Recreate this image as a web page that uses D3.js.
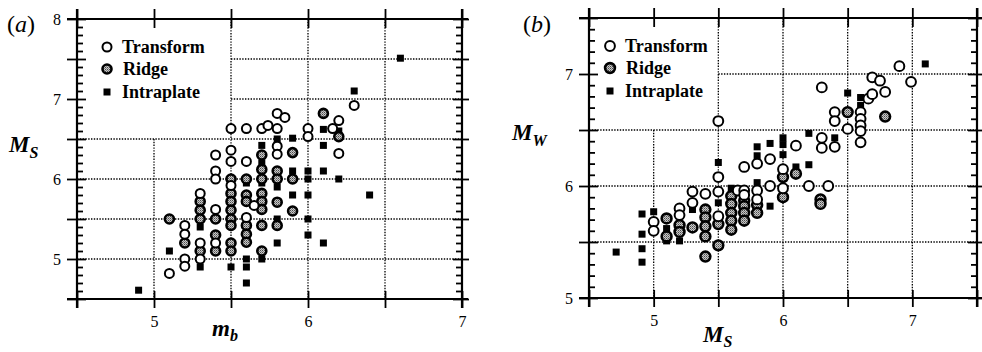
<!DOCTYPE html>
<html><head><meta charset="utf-8">
<script src="https://cdn.jsdelivr.net/npm/d3@7/dist/d3.min.js"></script>
<style>
html,body{margin:0;padding:0;background:#fff;}
svg{display:block;}
text{font-family:"Liberation Serif","Times New Roman",serif;fill:#000;}
</style></head><body>
<svg id="chart" width="982" height="352"></svg>
<script>
// ---------- DATA ----------
const seriesNames = ["Transform", "Ridge", "Intraplate"];

// Panel (a): [mb, Ms]
const aTransform = [[5.1,4.82],[5.2,5.42],[5.2,5.31],[5.2,5.0],[5.2,4.91],[5.3,5.82],[5.3,5.2],[5.3,5.0],
  [5.4,6.3],[5.4,6.1],[5.4,6.0],[5.4,5.62],[5.4,5.2],[5.5,6.63],[5.5,6.36],[5.5,6.22],[5.5,5.92],
  [5.6,6.63],[5.6,6.22],[5.6,5.52],[5.65,5.67],[5.7,6.63],[5.74,6.67],[5.8,6.63],[5.8,6.82],[5.8,6.41],
  [5.8,6.31],[5.85,6.77],[6.0,6.63],[6.0,6.53],[6.16,6.63],[6.2,6.73],[6.2,6.32],[6.3,6.92]];
const aRidge = [[5.1,5.5],[5.2,5.2],[5.3,5.72],[5.3,5.61],[5.3,5.5],[5.3,5.1],[5.4,5.5],[5.4,5.3],[5.4,5.1],
  [5.5,6.0],[5.5,5.82],[5.5,5.72],[5.5,5.61],[5.5,5.5],[5.5,5.42],[5.5,5.2],[5.5,5.1],
  [5.6,6.0],[5.6,5.8],[5.6,5.72],[5.6,5.42],[5.6,5.31],[5.6,5.21],
  [5.7,6.3],[5.7,6.12],[5.7,6.0],[5.7,5.82],[5.7,5.72],[5.7,5.62],[5.7,5.42],[5.7,5.1],
  [5.8,6.1],[5.8,6.0],[5.8,5.71],[5.8,5.42],[5.9,6.33],[5.9,6.0],[5.9,5.6],[6.1,6.82],[6.2,6.53]];
const aIntraplate = [[4.9,4.61],[5.1,5.1],[5.3,5.4],[5.3,4.9],[5.5,4.9],[5.6,5.95],[5.6,5.0],[5.6,4.9],[5.6,4.7],
  [5.7,6.42],[5.7,6.2],[5.7,5.95],[5.7,5.0],[5.8,6.5],[5.8,5.9],[5.8,5.5],[5.8,5.2],
  [5.9,6.51],[5.9,6.1],[5.9,5.8],[6.0,6.1],[6.0,6.0],[6.0,5.8],[6.0,5.5],[6.0,5.3],
  [6.1,6.62],[6.1,6.42],[6.1,6.1],[6.1,5.2],[6.2,6.6],[6.2,6.0],[6.3,7.1],[6.4,5.8],[6.6,7.51]];

// Panel (b): [Ms, Mw]
const bTransform = [[5.0,5.68],[5.0,5.6],[5.2,5.8],[5.2,5.74],[5.3,5.95],[5.3,5.85],[5.4,5.93],
  [5.5,6.58],[5.5,6.08],[5.5,5.95],[5.5,5.73],[5.65,5.96],[5.7,6.17],[5.7,5.96],[5.7,5.92],
  [5.8,6.2],[5.8,5.96],[5.8,5.88],[5.9,6.24],[5.9,6.0],[6.0,6.15],[6.0,5.98],[6.1,6.36],[6.2,6.0],
  [6.3,6.88],[6.3,6.43],[6.3,6.34],[6.35,6.0],[6.4,6.66],[6.4,6.58],[6.4,6.35],[6.5,6.51],
  [6.6,6.66],[6.6,6.6],[6.6,6.54],[6.6,6.49],[6.6,6.39],[6.66,6.78],[6.69,6.82],[6.69,6.97],
  [6.75,6.94],[6.79,6.84],[6.9,7.07],[6.99,6.93]];
const bRidge = [[5.1,5.71],[5.1,5.55],[5.2,5.65],[5.2,5.59],[5.3,5.63],[5.4,5.79],[5.4,5.72],[5.4,5.64],
  [5.4,5.55],[5.4,5.37],[5.5,5.66],[5.5,5.47],[5.6,5.91],[5.6,5.84],[5.6,5.76],[5.6,5.69],[5.6,5.61],
  [5.7,5.87],[5.7,5.82],[5.7,5.76],[5.7,5.69],[5.8,5.83],[5.8,5.76],[6.0,6.08],[6.0,5.9],[6.1,6.11],
  [6.29,5.88],[6.29,5.84],[6.5,6.66],[6.79,6.62]];
const bIntraplate = [[4.71,5.41],[4.91,5.75],[4.91,5.57],[4.91,5.44],[4.91,5.32],[5.0,5.77],[5.1,5.62],[5.1,5.51],
  [5.2,5.51],[5.3,5.79],[5.5,6.21],[5.5,5.85],[5.6,5.98],[5.8,6.35],[5.8,6.27],[5.8,6.03],[5.9,6.38],[5.9,5.82],
  [6.0,6.43],[6.0,6.37],[6.0,6.28],[6.1,6.17],[6.2,6.47],[6.2,6.19],[6.4,6.43],[6.5,6.83],[6.6,6.79],
  [6.6,6.72],[7.1,7.09]];

// Axis tick labels
const aXLabels = [5, 6, 7];
const aYLabels = [5, 6, 7, 8];
const bXLabels = [5, 6, 7];
const bYLabels = [5, 6, 7];

// ---------- DRAW ----------
const svg = d3.select("#chart");
const defs = svg.append("defs");
const pat = defs.append("pattern").attr("id","ridgeFill").attr("width",2).attr("height",2)
  .attr("patternUnits","userSpaceOnUse");
pat.append("rect").attr("width",2).attr("height",2).attr("fill","#c8c8c8");
pat.append("rect").attr("width",1).attr("height",1).attr("fill","#4a4a4a");
pat.append("rect").attr("x",1).attr("y",1).attr("width",1).attr("height",1).attr("fill","#808080");

function panel(cfg) {
  const x = d3.scaleLinear().domain(cfg.xDom).range(cfg.xRange);
  const y = d3.scaleLinear().domain(cfg.yDom).range(cfg.yRange);
  const g = svg.append("g");
  const [x0, x1] = cfg.xRange, [y0, y1] = [cfg.yRange[1], cfg.yRange[0]]; // y0 top, y1 bottom

  // gridlines (hidden behind the legend area: x<5.5 and y>6.5)
  const grid = g.append("g").attr("stroke","#000").attr("stroke-width",1.3)
    .attr("stroke-dasharray","1.4,1.4");
  grid.selectAll(".gv").data(cfg.gridX).join("line")
    .attr("x1", d => x(d)).attr("x2", d => x(d))
    .attr("y1", d => d < 5.5 ? y(6.5) : y0).attr("y2", y1);
  grid.selectAll(".gh").data(cfg.gridY).join("line")
    .attr("y1", d => y(d)).attr("y2", d => y(d))
    .attr("x1", d => d > 6.5 ? x(5.5) : x0).attr("x2", x1);

  // axes with crossing major ticks and inward minor ticks
  const minorsY = d3.range(Math.round(cfg.yDom[0]*10), Math.round(cfg.yDom[1]*10)+1)
    .map(v => v/10).filter(v => Math.round(v*10) % 5 !== 0);
  const majorsY = d3.range(cfg.yDom[0], cfg.yDom[1] + 0.001, 0.5);
  const majorsX = d3.range(cfg.xDom[0], cfg.xDom[1] + 0.001, 0.5);
  const fmtY = d => cfg.yLabels.includes(d) ? d3.format("d")(d) : "";
  const fmtX = d => cfg.xLabels.includes(d) ? d3.format("d")(d) : "";

  function ax(gen, tx, ty) {
    const a = g.append("g").attr("transform", `translate(${tx},${ty})`).call(gen);
    a.select(".domain").remove();
    a.selectAll("line").attr("stroke","#000").attr("stroke-width",1.8);
    a.selectAll("text").attr("font-size",16).attr("font-family","Liberation Serif, serif");
    return a;
  }
  // left
  ax(d3.axisLeft(y).tickValues(majorsY).tickSize(10).tickPadding(6).tickFormat(fmtY), x0, 0);
  ax(d3.axisRight(y).tickValues(majorsY).tickSize(9).tickFormat(""), x0, 0);
  ax(d3.axisRight(y).tickValues(minorsY).tickSize(6).tickFormat(""), x0, 0);
  // right
  ax(d3.axisLeft(y).tickValues(majorsY).tickSize(9).tickFormat(""), x1, 0);
  ax(d3.axisRight(y).tickValues(majorsY).tickSize(7).tickFormat(""), x1, 0);
  ax(d3.axisLeft(y).tickValues(minorsY).tickSize(6).tickFormat(""), x1, 0);
  // bottom
  ax(d3.axisBottom(x).tickValues(majorsX).tickSize(9).tickPadding(8).tickFormat(fmtX), 0, y1);
  ax(d3.axisTop(x).tickValues(majorsX).tickSize(8).tickFormat(""), 0, y1);
  // top
  ax(d3.axisTop(x).tickValues(majorsX).tickSize(10).tickFormat(""), 0, y0);
  ax(d3.axisBottom(x).tickValues(majorsX).tickSize(9).tickFormat(""), 0, y0);

  // spines (extending past the corners)
  const sp = g.append("g").attr("stroke","#000").attr("stroke-width",2.2);
  sp.append("line").attr("x1",x0-10).attr("x2",x1+6).attr("y1",y0).attr("y2",y0);
  sp.append("line").attr("x1",x0-10).attr("x2",x1+6).attr("y1",y1).attr("y2",y1);
  sp.append("line").attr("x1",x0).attr("x2",x0).attr("y1",y0-10).attr("y2",y1+9);
  sp.append("line").attr("x1",x1).attr("x2",x1).attr("y1",y0-10).attr("y2",y1+9);

  // markers
  const r = cfg.r, s = cfg.sq;
  g.append("g").selectAll("rect").data(cfg.intra).join("rect")
    .attr("x", d => x(d[0]) - s/2).attr("y", d => y(d[1]) - s/2)
    .attr("width", s).attr("height", s).attr("fill", "#000");
  g.append("g").selectAll("circle").data(cfg.ridge).join("circle")
    .attr("cx", d => x(d[0])).attr("cy", d => y(d[1])).attr("r", r)
    .attr("fill", "url(#ridgeFill)").attr("stroke", "#000").attr("stroke-width", 2.6);
  g.append("g").selectAll("circle").data(cfg.trans).join("circle")
    .attr("cx", d => x(d[0])).attr("cy", d => y(d[1])).attr("r", r)
    .attr("fill", "#fff").attr("stroke", "#000").attr("stroke-width", 2);

  // legend
  const lg = g.append("g").attr("transform", `translate(${x0 + cfg.legDx},${y0})`);
  const rows = [{k:"t", yy:28}, {k:"r", yy:50}, {k:"i", yy:73}];
  lg.append("circle").attr("cx",0).attr("cy",rows[0].yy).attr("r",r)
    .attr("fill","#fff").attr("stroke","#000").attr("stroke-width",2);
  lg.append("circle").attr("cx",0).attr("cy",rows[1].yy).attr("r",r)
    .attr("fill","url(#ridgeFill)").attr("stroke","#000").attr("stroke-width",2.6);
  lg.append("rect").attr("x",-s/2).attr("y",rows[2].yy - s/2).attr("width",s).attr("height",s).attr("fill","#000");
  lg.selectAll("text.lab").data(seriesNames).join("text").attr("class","lab")
    .attr("x", (d,i) => i === 1 ? 16 : 15).attr("y", (d,i) => rows[i].yy + 6)
    .attr("font-size", 18).attr("font-weight", "bold").text(d => d);

  // panel label: upright parentheses, italic letter
  const pl = g.append("text").attr("x", cfg.labX).attr("y", 32).attr("font-size", 24);
  pl.append("tspan").text("(");
  pl.append("tspan").attr("font-style","italic").text(cfg.label);
  pl.append("tspan").text(")");

  // axis titles
  const yt = g.append("text").attr("x", cfg.yTitleX).attr("y", cfg.yTitleY)
    .attr("font-size", 23).attr("font-weight","bold").attr("font-style","italic");
  yt.append("tspan").text(cfg.yTitle[0]);
  yt.append("tspan").attr("font-size",16).attr("dy",6).text(cfg.yTitle[1]);
  const xt = g.append("text").attr("x", cfg.xTitleX).attr("y", cfg.xTitleY)
    .attr("font-size", 23).attr("font-weight","bold").attr("font-style","italic");
  xt.append("tspan").text(cfg.xTitle[0]);
  xt.append("tspan").attr("font-size",16).attr("dy",5).text(cfg.xTitle[1]);
}

panel({xDom:[4.5,7], xRange:[77,462], yDom:[4.5,8], yRange:[299,19],
  gridX:[5,5.5,6,6.5], gridY:[5,5.5,6,6.5,7,7.5],
  xLabels:aXLabels, yLabels:aYLabels, r:4.5, sq:7,
  trans:aTransform, ridge:aRidge, intra:aIntraplate,
  legDx:30, label:"a", labX:7,
  yTitle:["M","S"], yTitleX:9, yTitleY:152, xTitle:["m","b"], xTitleX:212, xTitleY:336});

panel({xDom:[4.5,7.5], xRange:[589,977], yDom:[5,7.5], yRange:[298,18],
  gridX:[5,5.5,6,6.5,7], gridY:[5.5,6,6.5,7],
  xLabels:bXLabels, yLabels:bYLabels, r:4.9, sq:7,
  trans:bTransform, ridge:bRidge, intra:bIntraplate,
  legDx:21, label:"b", labX:523,
  yTitle:["M","W"], yTitleX:512, yTitleY:140, xTitle:["M","S"], xTitleX:703, xTitleY:342});
</script>
</body></html>
